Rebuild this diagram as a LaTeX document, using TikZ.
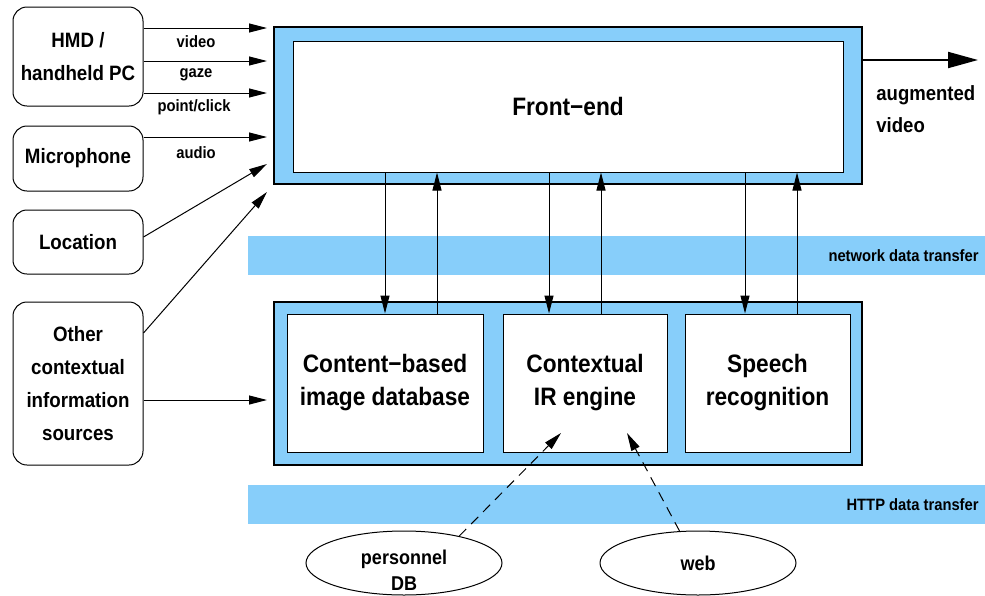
\documentclass[tikz,border=0pt]{standalone}
\usepackage{fontspec}
\setmainfont{Liberation Sans}[FakeStretch=0.9]
\usetikzlibrary{arrows.meta,positioning,shapes.geometric}
\definecolor{skyband}{RGB}{135,206,250}
\tikzset{>={Triangle[length=9pt,width=4.5pt]}, line/.style={line width=0.5pt},
arr/.style={line, ->}, darr/.style={line, ->, dash pattern=on 5pt off 3.5pt},
outer/.style={draw, line width=1pt, fill=skyband, inner sep=0pt},
inner/.style={draw, line, fill=white, inner sep=0pt, align=center, font=\bfseries\fontsize{12.6}{16.5}\selectfont},
src/.style={draw, line, rounded corners=7pt, minimum width=65pt, inner sep=0pt, align=center, font=\bfseries\fontsize{10.4}{16.5}\selectfont},
ext/.style={draw, line, ellipse, minimum width=98pt, minimum height=32pt, inner sep=0pt},
band/.style={fill=skyband, inner sep=0pt, minimum width=368.5pt, minimum height=19.5pt, anchor=north west},
note/.style={font=\bfseries\fontsize{8.2}{10}\selectfont}}

\begin{document}
\begin{tikzpicture}[x=0.5pt,y=-0.5pt]
\useasboundingbox (0,0) rectangle (985,595);
% Transfer bands
\node[band] (netBand) at (248,236) {};
\node[note, anchor=east, inner sep=0pt] (netLbl) at (979,256) {network data transfer};
\node[band] (httpBand) at (248,485) {};
\node[note, anchor=east, inner sep=0pt] (httpLbl) at (979,505) {HTTP data transfer};
% Front end
\node[outer, minimum width=294pt, minimum height=78.5pt] (frontOut) at (568,105.5) {};
\node[inner, minimum width=275pt, minimum height=65.5pt] (frontIn) at (568,106.5) {Front−end};
% Back end
\node[outer, minimum width=294pt, minimum height=81.5pt] (backOut) at (568,383.5) {};
\node[inner, minimum width=98pt, minimum height=69pt] (cbir) at (385,383) {Content−based\\image database};
\node[inner, minimum width=82pt, minimum height=69pt] (irEng) at (585,383) {Contextual\\IR engine};
\node[inner, minimum width=82.5pt, minimum height=69pt] (speech) at (767.5,383) {Speech\\recognition};
% Requests and replies
\draw[arr] (frontIn.south -| 385,0) -- (cbir.north -| 385,0);
\draw[arr] (cbir.north -| 437,0) -- (frontIn.south -| 437,0);
\draw[arr] (frontIn.south -| 549,0) -- (irEng.north -| 549,0);
\draw[arr] (irEng.north -| 601,0) -- (frontIn.south -| 601,0);
\draw[arr] (frontIn.south -| 745,0) -- (speech.north -| 745,0);
\draw[arr] (speech.north -| 797,0) -- (frontIn.south -| 797,0);
% Sources
\node[src, minimum height=49.5pt] (hmd) at (78,56.5) {HMD /\\handheld PC};
\node[src, minimum height=32.5pt] (mic) at (78,158.5) {Microphone};
\node[src, minimum height=32pt] (loc) at (78,242) {Location};
\node[src, minimum height=81.5pt] (other) at (78,383.5) {Other\\contextual\\information\\sources};
\coordinate (inVideo) at (267,28);
\coordinate (inGaze) at (267,61);
\coordinate (inClick) at (267,93);
\coordinate (inAudio) at (267,137);
\coordinate (inLoc) at (267,164);
\coordinate (inOther) at (267,192);
\coordinate (inBack) at (267,400);
\draw[arr] (hmd.east |- inVideo) -- (inVideo);
\draw[arr] (hmd.east |- inGaze) -- (inGaze);
\draw[arr] (hmd.east |- inClick) -- (inClick);
\draw[arr] (mic.east |- inAudio) -- (inAudio);
\draw[arr] (loc.east |- 0,237) -- (inLoc);
\draw[arr] (other.east |- 0,333) -- (inOther);
\draw[arr] (other.east |- inBack) -- (inBack);
\node[note] (vidLbl) at (196,42) {video};
\node[note] (gazeLbl) at (196,75) {gaze};
\node[note] (clickLbl) at (194,107) {point/click};
\node[note] (audioLbl) at (196,153) {audio};
% Output
\coordinate (outTip) at (978,60);
\draw[line width=1pt, -{Triangle[length=15pt,width=8pt]}] (frontOut.east |- outTip) -- (outTip);
\node[anchor=west, align=left, inner sep=0pt, font=\bfseries\fontsize{10.3}{16}\selectfont] (augLbl) at (876,109) {augmented\\video};
% External resources
\node[ext] (pdb) at (404,563) {};
\node[align=center, font=\bfseries\fontsize{10}{13}\selectfont] (pdbTxt) at (404,570) {personnel\\DB};
\node[ext, font=\bfseries\fontsize{10}{13}\selectfont] (web) at (698,563) {web};
\coordinate (pdbTip) at (561,433);
\coordinate (webTip) at (627,433);
\draw[darr] (pdb.26) -- (pdbTip);
\draw[darr] (web.120) -- (webTip);
\end{tikzpicture}
\end{document}
